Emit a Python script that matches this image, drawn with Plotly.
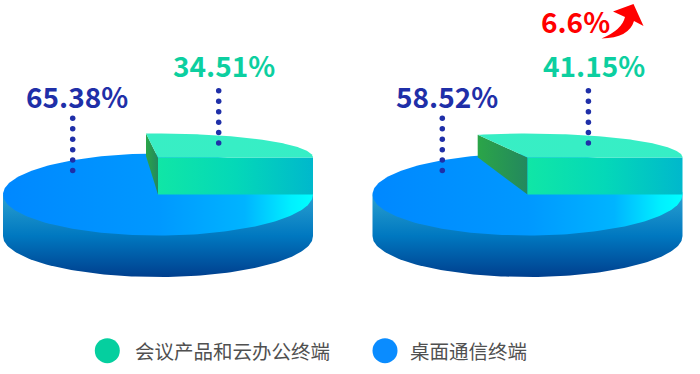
import numpy as np
import plotly.graph_objects as go

# ---- data ----
categories = ["会议产品和云办公终端", "桌面通信终端"]
conference_share = [34.51, 41.15]
desktop_share = [65.38, 58.52]
growth_label = "6.6%"

# ---- drawing constants ----
CONF_COLOR = "#0ccfa0"
DESK_COLOR = "#1f2fa8"
LEG_CONF = "#05cf9f"
LEG_DESK = "#0a8cff"
FONT = "Noto Sans CJK SC"
CENTERS = [158.0, 527.5]
RX = 155.0
TOP_Y = 194.5
RY = 41.0
DEPTH = 41.5
LIFT = 37.0
SLICE_RY = 24.0


def sweep_deg(share):
    # the picture's perspective compresses the slice; calibrated on its two slices
    return 20.1 + 2.154 * share


def scatter_fill(xs, ys, grad_type, scale, start, stop):
    return go.Scatter(
        x=xs, y=ys, mode="lines", line=dict(width=0), fill="toself",
        fillgradient=dict(type=grad_type, colorscale=scale, start=start, stop=stop),
        hoverinfo="skip", showlegend=False,
    )


fig = go.Figure()
for i, cx in enumerate(CENTERS):
    left, right = cx - RX, cx + RX
    # wall
    t = np.linspace(0, np.pi, 120)
    wx = np.concatenate([cx + RX * np.cos(t), [left, right]])
    wy = np.concatenate([TOP_Y + DEPTH + RY * np.sin(t), [TOP_Y, TOP_Y]])
    fig.add_trace(scatter_fill(wx, wy, "vertical",
                               [[0, "#2aa0d0"], [0.5, "#0078c0"], [1, "#003f8e"]],
                               TOP_Y, TOP_Y + DEPTH + RY))
    # top disc
    t = np.linspace(0, 2 * np.pi, 240)
    fig.add_trace(scatter_fill(cx + RX * np.cos(t), TOP_Y + RY * np.sin(t), "horizontal",
                               [[0, "#0088ff"], [0.5, "#0098ff"], [0.78, "#00b4ff"], [0.93, "#00f0ff"], [1, "#00ffff"]],
                               left, right))
    # raised slice
    a = np.radians(sweep_deg(conference_share[i]))
    sy = TOP_Y - LIFT
    ex, ey = cx + RX * np.cos(a), sy - SLICE_RY * np.sin(a)
    # inner side face
    fig.add_trace(scatter_fill([ex, cx, cx, ex, ex], [ey, sy, sy + LIFT, ey + 22.5, ey], "horizontal",
                               [[0, "#2ba548"], [1, "#23885e"]], ex, cx))
    # front face
    fig.add_trace(scatter_fill([cx, right, right, cx, cx], [sy, sy, sy + LIFT, sy + LIFT, sy], "horizontal",
                               [[0, "#10e6a6"], [0.5, "#04d8b8"], [1, "#00b8cc"]], cx, right))
    # top face
    t = np.linspace(0, a, 100)
    fig.add_trace(scatter_fill(np.r_[cx, cx + RX * np.cos(t), cx], np.r_[sy, sy - SLICE_RY * np.sin(t), sy],
                               "horizontal", [[0, "#38eec4"], [1, "#36eec6"]], ex, right))

# dotted leader lines
dot_rows = [10.45 * k for k in range(6)]
leaders = [(72.7, 118.3), (218.7, 90.8), (442.3, 118.3), (588.4, 90.8)]
for lx, ly in leaders:
    fig.add_trace(go.Scatter(x=[lx] * 6, y=[ly + d for d in dot_rows], mode="markers",
                             marker=dict(size=5.5, color="#1f2fa8"), hoverinfo="skip", showlegend=False))

# legend
for lx, tx, name, col in [(107.3, 133, categories[0], LEG_CONF), (385.0, 408, categories[1], LEG_DESK)]:
    fig.add_trace(go.Scatter(x=[lx], y=[350.7], mode="markers", marker=dict(size=25, color=col),
                             hoverinfo="skip", showlegend=False))
    fig.add_annotation(x=tx, y=350.7, text=name, xanchor="left", yanchor="middle", showarrow=False,
                       font=dict(family=FONT, size=19.5, color="#505050"))

labels = [
    (77, 96, f"{desktop_share[0]:.2f}%", DESK_COLOR),
    (224, 64.5, f"{conference_share[0]:.2f}%", CONF_COLOR),
    (447, 96, f"{desktop_share[1]:.2f}%", DESK_COLOR),
    (594, 64.5, f"{conference_share[1]:.2f}%", CONF_COLOR),
    (575, 20.5, growth_label, "#ff0000"),
]
for lx, ly, txt, col in labels:
    fig.add_annotation(x=lx, y=ly, text=f"<b>{txt}</b>", xanchor="center", yanchor="middle", showarrow=False,
                       font=dict(family=FONT, size=28, color=col))

fig.update_layout(
    width=700, height=374, margin=dict(l=0, r=0, t=0, b=0),
    paper_bgcolor="white", plot_bgcolor="white", showlegend=False,
    xaxis=dict(range=[0, 700], visible=False, fixedrange=True),
    yaxis=dict(range=[374, 0], visible=False, fixedrange=True),
    shapes=[dict(type="path", xref="x", yref="y", line_width=0, fillcolor="#ff0000",
                 path="M 601.5 38.5 Q 622 30 625 17 L 613 11.5 L 633.5 4 L 643.5 26 L 634 21 Q 629 38 601.5 38.5 Z")],
)
fig.write_html("out.html", config={"displayModeBar": False},
               post_script="document.body.style.margin='0';document.documentElement.style.overflow='hidden';")
